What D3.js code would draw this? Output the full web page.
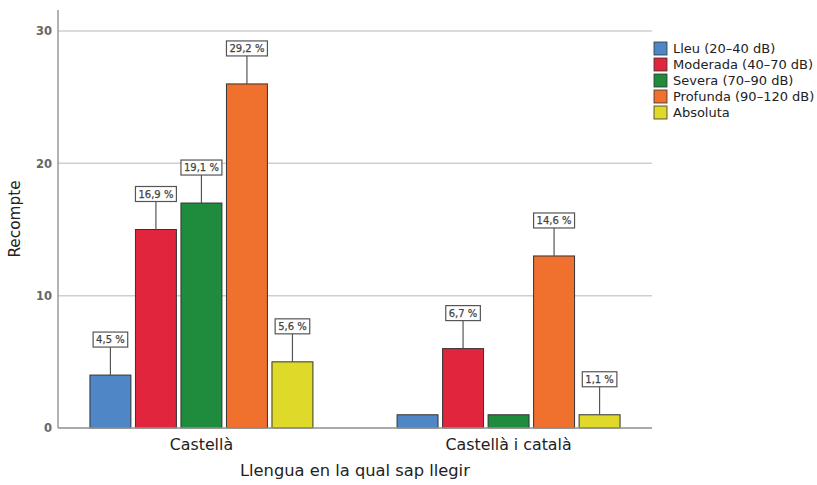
<!DOCTYPE html>
<html><head><meta charset="utf-8">
<script src="https://cdn.jsdelivr.net/npm/d3@7/dist/d3.min.js"></script>
<style>body{margin:0;background:#fff}svg{display:block}text{font-family:"DejaVu Sans",sans-serif}</style>
</head><body><svg id="c" width="817" height="485"></svg>
<script>
const categories = ["Castellà", "Castellà i català"];
const series = ["Lleu (20–40 dB)", "Moderada (40–70 dB)", "Severa (70–90 dB)", "Profunda (90–120 dB)", "Absoluta"];
const colors = ["#4f86c6", "#e0253c", "#1f8b3d", "#f0702d", "#dfd92a"];
const valuesCastella = [4, 15, 17, 26, 5];
const valuesCastellaCatala = [1, 6, 1, 13, 1];
const labelsCastella = ["4,5 %", "16,9 %", "19,1 %", "29,2 %", "5,6 %"];
const labelsCastellaCatala = [null, "6,7 %", null, "14,6 %", "1,1 %"];
const yTicks = [0, 10, 20, 30];

const values = [valuesCastella, valuesCastellaCatala];
const labels = [labelsCastella, labelsCastellaCatala];

const svg = d3.select("#c");
const pLeft = 58, pRight = 652, pTop = 10, pBottom = 428;
const y = d3.scaleLinear().domain([0, 30]).range([pBottom, 31]);
const x0 = d3.scaleBand().domain(categories).range([pLeft, pRight]).paddingInner(0.274).paddingOuter(0.104);
const x1 = d3.scaleBand().domain(series).range([0, x0.bandwidth()]).paddingInner(0.1).paddingOuter(0);
const color = d3.scaleOrdinal().domain(series).range(colors);

// gridlines
svg.append("g").selectAll("line").data(yTicks).join("line")
  .attr("x1", pLeft).attr("x2", pRight).attr("y1", d => y(d)).attr("y2", d => y(d))
  .attr("stroke", "#cfcfcf").attr("stroke-width", 1.5);

// y axis
const ya = svg.append("g").attr("transform", `translate(${pLeft},0)`)
  .call(d3.axisLeft(y).tickValues(yTicks).tickSize(0).tickPadding(6).tickFormat(d3.format("d")));
ya.select(".domain").remove();
ya.selectAll("text").attr("fill", "#666").style("font-size", "11.5px").style("font-weight", "bold").style("font-family", '"DejaVu Sans",sans-serif');
svg.append("line").attr("x1", pLeft).attr("x2", pLeft).attr("y1", pTop).attr("y2", pBottom)
  .attr("stroke", "#9a9a9a").attr("stroke-width", 1.5);

// bars
const rows = [];
categories.forEach((c, i) => series.forEach((s, j) => rows.push({c, s, v: values[i][j], l: labels[i][j]})));
svg.append("g").selectAll("rect").data(rows).join("rect")
  .attr("x", d => x0(d.c) + x1(d.s)).attr("width", x1.bandwidth())
  .attr("y", d => y(d.v)).attr("height", d => y(0) - y(d.v))
  .attr("fill", d => color(d.s)).attr("stroke", "#333").attr("stroke-width", 1);

// labels
const lead = 28;
const lg = svg.append("g").selectAll("g").data(rows.filter(d => d.l)).join("g");
lg.append("line")
  .attr("x1", d => x0(d.c) + x1(d.s) + x1.bandwidth() / 2)
  .attr("x2", d => x0(d.c) + x1(d.s) + x1.bandwidth() / 2)
  .attr("y1", d => y(d.v)).attr("y2", d => y(d.v) - lead)
  .attr("stroke", "#555").attr("stroke-width", 1.2);
lg.each(function(d) {
  const g = d3.select(this);
  const cx = x0(d.c) + x1(d.s) + x1.bandwidth() / 2;
  const by = y(d.v) - lead;
  const t = g.append("text").attr("x", cx).attr("y", by - 4).attr("text-anchor", "middle")
    .style("font-size", "10px").attr("fill", "#444").attr("stroke", "#444").attr("stroke-width", 0.25).text(d.l);
  const w = t.node().getComputedTextLength() + 6;
  g.insert("rect", "text").attr("x", cx - w / 2).attr("y", by - 15).attr("width", w).attr("height", 15)
    .attr("fill", "#fff").attr("stroke", "#555").attr("stroke-width", 1.2);
});

// baseline
svg.append("line").attr("x1", pLeft).attr("x2", pRight).attr("y1", pBottom).attr("y2", pBottom)
  .attr("stroke", "#9a9a9a").attr("stroke-width", 1.5);

// x category labels
svg.append("g").selectAll("text").data(categories).join("text")
  .attr("x", d => x0(d) + x0.bandwidth() / 2).attr("y", 450).attr("text-anchor", "middle")
  .style("font-size", "15.8px").attr("fill", "#222").text(d => d);

// axis titles
svg.append("text").attr("x", 240).attr("y", 476).attr("text-anchor", "start")
  .style("font-size", "16.3px").attr("fill", "#222").text("Llengua en la qual sap llegir");
svg.append("text").attr("transform", "translate(20,219) rotate(-90)").attr("text-anchor", "middle")
  .style("font-size", "15.3px").attr("fill", "#222").text("Recompte");

// legend
const leg = svg.append("g").selectAll("g").data(series).join("g")
  .attr("transform", (d, i) => `translate(654,${42 + i * 16})`);
leg.append("rect").attr("width", 13).attr("height", 13).attr("fill", d => color(d)).attr("stroke", "#333").attr("stroke-width", 0.8);
leg.append("text").attr("x", 19).attr("y", 11).style("font-size", "13px").attr("fill", "#222").text(d => d);
</script></body></html>
